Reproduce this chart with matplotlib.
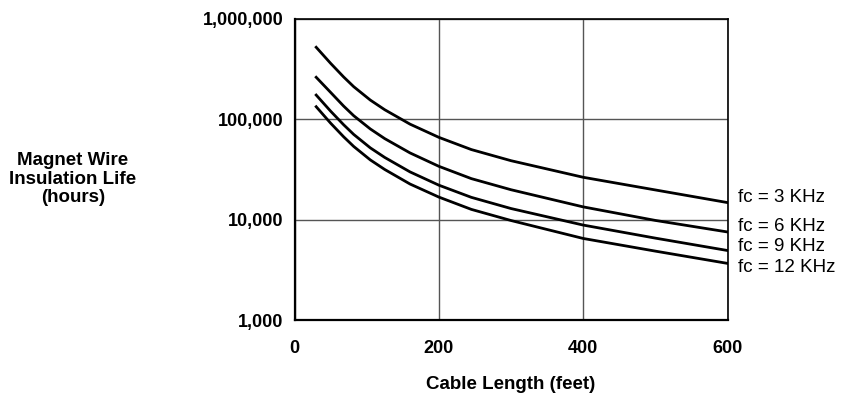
import matplotlib
matplotlib.use("Agg")
import matplotlib.pyplot as plt
from matplotlib.ticker import FixedLocator, FuncFormatter

length = [30, 50, 68, 82, 105, 125, 160, 200, 245, 300, 400, 500, 600]

# insulation life (hours) for each carrier frequency
life_3k = [523000, 362000, 265000, 212000, 156000, 125000, 89900, 66400, 50200, 38900, 26600, 19900, 14900]
life_6k = [263000, 186000, 136000, 109000, 80500, 64500, 46500, 34200, 25800, 20000, 13500, 9900, 7600]
life_9k = [175000, 121000, 88700, 71000, 52200, 41900, 30100, 22200, 16800, 13000, 8900, 6600, 4970]
life_12k = [134000, 91900, 67300, 53900, 39600, 31800, 22800, 16900, 12750, 9880, 6550, 4900, 3700]

series = [life_3k, life_6k, life_9k, life_12k]
labels = ["fc = 3 KHz", "fc = 6 KHz", "fc = 9 KHz", "fc = 12 KHz"]
label_y = [16800, 8580, 5420, 3350]   # where the curve labels sit

x_ticks = [0, 200, 400, 600]
y_ticks = [1000, 10000, 100000, 1000000]

plt.rcParams["font.family"] = ["Liberation Sans", "DejaVu Sans"]

fig = plt.figure(figsize=(8.53, 3.97), dpi=100)
ax = fig.add_axes([0.3453, 0.1927, 0.5076, 0.7595])

for vals in series:
    ax.plot(length, vals, color="black", lw=2.0, solid_joinstyle="round")

ax.set_yscale("log")
ax.set_xlim(0, 600)
ax.set_ylim(1000, 1000000)

ax.xaxis.set_major_locator(FixedLocator(x_ticks))
ax.yaxis.set_major_locator(FixedLocator(y_ticks))
ax.yaxis.set_minor_locator(FixedLocator([]))
ax.yaxis.set_major_formatter(FuncFormatter(lambda v, p: f"{int(round(v)):,}"))
ax.tick_params(length=0, labelsize=13)
ax.tick_params(axis="y", pad=8)
ax.tick_params(axis="x", pad=14)
for lab in ax.get_xticklabels() + ax.get_yticklabels():
    lab.set_fontweight("bold")

ax.grid(True, which="major", color="#555555", lw=1.0)

for side in ["left", "bottom"]:
    ax.spines[side].set_linewidth(1.6)
for side in ["top", "right"]:
    ax.spines[side].set_linewidth(1.2)

for name, yy in zip(labels, label_y):
    ax.text(615, yy, name, fontsize=13.5, va="center", ha="left", clip_on=False)

ax.set_xlabel("Cable Length (feet)", fontsize=13.5, fontweight="bold", labelpad=14)
fig.text(0.0856, 0.549, "Magnet Wire\nInsulation Life\n(hours)", fontsize=13.5,
         fontweight="bold", ha="center", va="center", linespacing=1.15)

fig.savefig("out.png", dpi=100)
